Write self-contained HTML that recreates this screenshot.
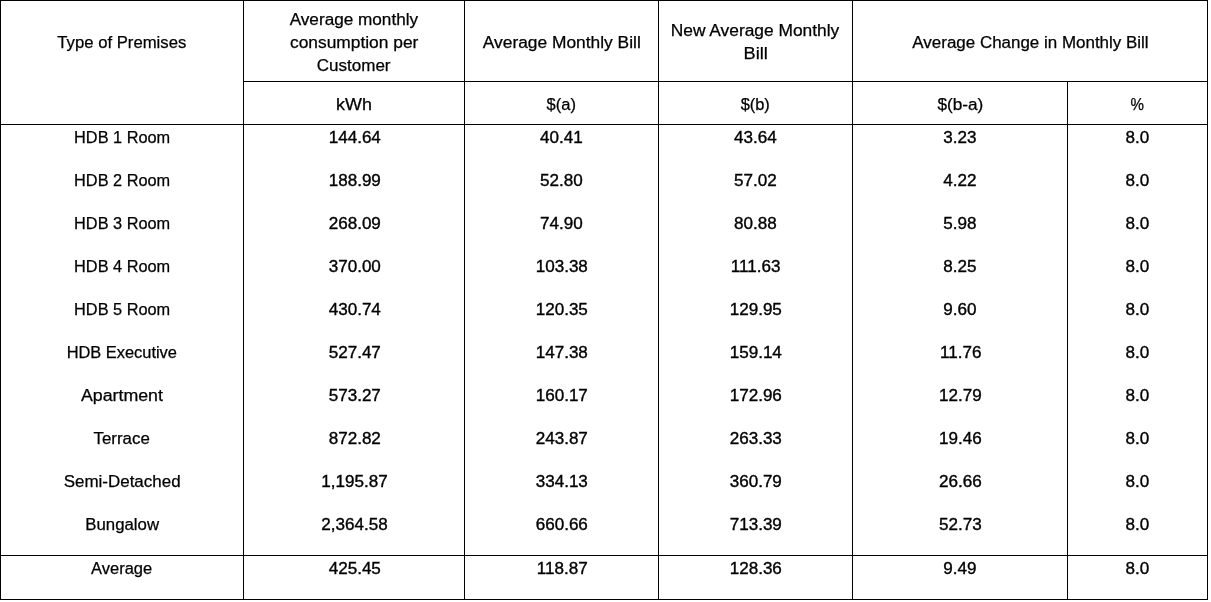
<!DOCTYPE html>
<html lang="en">
<head>
<meta charset="utf-8">
<title>Average Monthly Bill by Type of Premises</title>
<style>
html,body{margin:0;padding:0;background:#fff;}
body{width:1211px;height:602px;overflow:hidden;position:relative;
 font-family:"Liberation Sans",sans-serif;font-size:16px;color:#000;}
table{position:absolute;left:0;top:0;border-collapse:separate;border-spacing:0;
 table-layout:fixed;width:1208px;border-left:1px solid #000;border-top:1px solid #000;}
td,th{padding:0;margin:0;font-weight:normal;text-align:center;vertical-align:top;
 border-right:1px solid #000;box-sizing:border-box;line-height:23px;white-space:nowrap;overflow:visible;}
.t{display:inline-block;transform-origin:50% 50%;-webkit-text-stroke:0.25px #000;}
.n{-webkit-text-stroke:0.35px #000;}
tr.h1 th{height:81px;border-bottom:1px solid #000;}
tr.h1 th.nb{border-bottom:none;}
tr.h2 th{height:43px;border-bottom:1px solid #000;padding-top:11px;}
tr.d td{height:43px;padding-top:1px;}
tr.d.last td{height:44px;border-bottom:1px solid #000;}
tr.a td{height:44px;border-bottom:1px solid #000;padding-top:1px;}
.l1{padding-top:30px;}
.l2{padding-top:18px;}
.l3{padding-top:7px;}
</style>
</head>
<body>
<table>
<colgroup>
<col style="width:243px">
<col style="width:221px">
<col style="width:194px">
<col style="width:194px">
<col style="width:215px">
<col style="width:140px">
</colgroup>
<thead>
<tr class="h1">
<th class="nb l1"><span class="t" style="transform:scale(1.0430,1)">Type of Premises</span></th>
<th class="l3"><span class="t" style="transform:scale(1.0725,1)">Average monthly</span><br><span class="t" style="transform:scale(1.0850,1)">consumption per</span><br><span class="t" style="transform:scale(1.0630,1)">Customer</span></th>
<th class="l1"><span class="t" style="transform:scale(1.0850,1)">Average Monthly Bill</span></th>
<th class="l2"><span class="t" style="transform:translateX(-0.7px) scale(1.0850,1)">New Average Monthly</span><br><span class="t" style="transform:scale(1.1370,1)">Bill</span></th>
<th class="l1" colspan="2"><span class="t" style="transform:scale(1.0600,1)">Average Change in Monthly Bill</span></th>
</tr>
<tr class="h2">
<th></th>
<th><span class="t" style="transform:scale(1.1200,1)">kWh</span></th>
<th><span class="t" style="transform:scale(1.0300,1)">$(a)</span></th>
<th><span class="t" style="transform:scale(1.0250,1)">$(b)</span></th>
<th><span class="t" style="transform:scale(1.0750,1)">$(b-a)</span></th>
<th><span class="t" style="transform:scale(0.9460,1)">%</span></th>
</tr>
</thead>
<tbody>
<tr class="d"><td><span class="t" style="transform:scale(1.0200,1)">HDB 1 Room</span></td><td><span class="t n" style="transform:translateX(0.3px) scale(1.0660,1)">144.64</span></td><td><span class="t n" style="transform:translateX(0.3px) scale(1.0660,1)">40.41</span></td><td><span class="t n" style="transform:translateX(0.3px) scale(1.0660,1)">43.64</span></td><td><span class="t n" style="transform:translateX(0.3px) scale(1.0660,1)">3.23</span></td><td><span class="t n" style="transform:translateX(0.3px) scale(1.0660,1)">8.0</span></td></tr>
<tr class="d"><td><span class="t" style="transform:scale(1.0200,1)">HDB 2 Room</span></td><td><span class="t n" style="transform:translateX(0.3px) scale(1.0660,1)">188.99</span></td><td><span class="t n" style="transform:translateX(0.3px) scale(1.0660,1)">52.80</span></td><td><span class="t n" style="transform:translateX(0.3px) scale(1.0660,1)">57.02</span></td><td><span class="t n" style="transform:translateX(0.3px) scale(1.0660,1)">4.22</span></td><td><span class="t n" style="transform:translateX(0.3px) scale(1.0660,1)">8.0</span></td></tr>
<tr class="d"><td><span class="t" style="transform:scale(1.0200,1)">HDB 3 Room</span></td><td><span class="t n" style="transform:translateX(0.3px) scale(1.0660,1)">268.09</span></td><td><span class="t n" style="transform:translateX(0.3px) scale(1.0660,1)">74.90</span></td><td><span class="t n" style="transform:translateX(0.3px) scale(1.0660,1)">80.88</span></td><td><span class="t n" style="transform:translateX(0.3px) scale(1.0660,1)">5.98</span></td><td><span class="t n" style="transform:translateX(0.3px) scale(1.0660,1)">8.0</span></td></tr>
<tr class="d"><td><span class="t" style="transform:scale(1.0200,1)">HDB 4 Room</span></td><td><span class="t n" style="transform:translateX(0.3px) scale(1.0660,1)">370.00</span></td><td><span class="t n" style="transform:translateX(0.3px) scale(1.0660,1)">103.38</span></td><td><span class="t n" style="transform:translateX(0.3px) scale(1.0660,1)">111.63</span></td><td><span class="t n" style="transform:translateX(0.3px) scale(1.0660,1)">8.25</span></td><td><span class="t n" style="transform:translateX(0.3px) scale(1.0660,1)">8.0</span></td></tr>
<tr class="d"><td><span class="t" style="transform:scale(1.0200,1)">HDB 5 Room</span></td><td><span class="t n" style="transform:translateX(0.3px) scale(1.0660,1)">430.74</span></td><td><span class="t n" style="transform:translateX(0.3px) scale(1.0660,1)">120.35</span></td><td><span class="t n" style="transform:translateX(0.3px) scale(1.0660,1)">129.95</span></td><td><span class="t n" style="transform:translateX(0.3px) scale(1.0660,1)">9.60</span></td><td><span class="t n" style="transform:translateX(0.3px) scale(1.0660,1)">8.0</span></td></tr>
<tr class="d"><td><span class="t" style="transform:scale(1.0250,1)">HDB Executive</span></td><td><span class="t n" style="transform:translateX(0.3px) scale(1.0660,1)">527.47</span></td><td><span class="t n" style="transform:translateX(0.3px) scale(1.0660,1)">147.38</span></td><td><span class="t n" style="transform:translateX(0.3px) scale(1.0660,1)">159.14</span></td><td><span class="t n" style="transform:translateX(0.3px) scale(1.0660,1)">11.76</span></td><td><span class="t n" style="transform:translateX(0.3px) scale(1.0660,1)">8.0</span></td></tr>
<tr class="d"><td><span class="t" style="transform:scale(1.1100,1)">Apartment</span></td><td><span class="t n" style="transform:translateX(0.3px) scale(1.0660,1)">573.27</span></td><td><span class="t n" style="transform:translateX(0.3px) scale(1.0660,1)">160.17</span></td><td><span class="t n" style="transform:translateX(0.3px) scale(1.0660,1)">172.96</span></td><td><span class="t n" style="transform:translateX(0.3px) scale(1.0660,1)">12.79</span></td><td><span class="t n" style="transform:translateX(0.3px) scale(1.0660,1)">8.0</span></td></tr>
<tr class="d"><td><span class="t" style="transform:scale(1.0550,1)">Terrace</span></td><td><span class="t n" style="transform:translateX(0.3px) scale(1.0660,1)">872.82</span></td><td><span class="t n" style="transform:translateX(0.3px) scale(1.0660,1)">243.87</span></td><td><span class="t n" style="transform:translateX(0.3px) scale(1.0660,1)">263.33</span></td><td><span class="t n" style="transform:translateX(0.3px) scale(1.0660,1)">19.46</span></td><td><span class="t n" style="transform:translateX(0.3px) scale(1.0660,1)">8.0</span></td></tr>
<tr class="d"><td><span class="t" style="transform:scale(1.0600,1)">Semi-Detached</span></td><td><span class="t n" style="transform:translateX(0.3px) scale(1.0660,1)">1,195.87</span></td><td><span class="t n" style="transform:translateX(0.3px) scale(1.0660,1)">334.13</span></td><td><span class="t n" style="transform:translateX(0.3px) scale(1.0660,1)">360.79</span></td><td><span class="t n" style="transform:translateX(0.3px) scale(1.0660,1)">26.66</span></td><td><span class="t n" style="transform:translateX(0.3px) scale(1.0660,1)">8.0</span></td></tr>
<tr class="d last"><td><span class="t" style="transform:scale(1.0500,1)">Bungalow</span></td><td><span class="t n" style="transform:translateX(0.3px) scale(1.0660,1)">2,364.58</span></td><td><span class="t n" style="transform:translateX(0.3px) scale(1.0660,1)">660.66</span></td><td><span class="t n" style="transform:translateX(0.3px) scale(1.0660,1)">713.39</span></td><td><span class="t n" style="transform:translateX(0.3px) scale(1.0660,1)">52.73</span></td><td><span class="t n" style="transform:translateX(0.3px) scale(1.0660,1)">8.0</span></td></tr>
<tr class="a"><td><span class="t" style="transform:scale(1.0300,1)">Average</span></td><td><span class="t n" style="transform:translateX(0.3px) scale(1.0660,1)">425.45</span></td><td><span class="t n" style="transform:translateX(0.3px) scale(1.0660,1)">118.87</span></td><td><span class="t n" style="transform:translateX(0.3px) scale(1.0660,1)">128.36</span></td><td><span class="t n" style="transform:translateX(0.3px) scale(1.0660,1)">9.49</span></td><td><span class="t n" style="transform:translateX(0.3px) scale(1.0660,1)">8.0</span></td></tr>
</tbody>
</table>
</body>
</html>
